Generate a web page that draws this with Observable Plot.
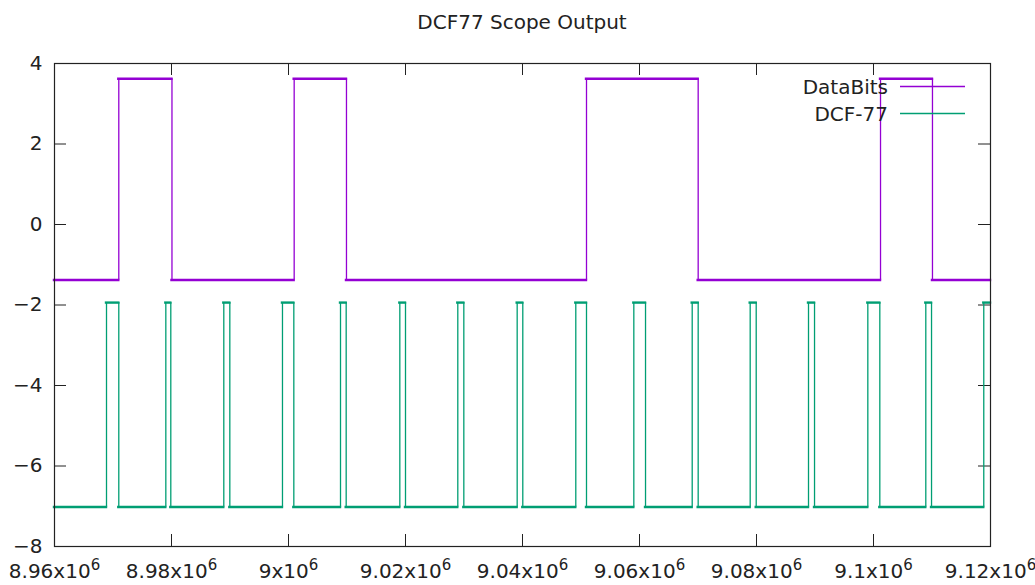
<!DOCTYPE html>
<html><head><meta charset="utf-8">
<script src="https://cdn.jsdelivr.net/npm/d3@7"></script>
<script src="https://cdn.jsdelivr.net/npm/@observablehq/plot@0.6"></script>
<style>
html,body{margin:0;padding:0;background:#fff;overflow:hidden;width:1035px;height:585px;}
#title{height:44px;line-height:44px;box-sizing:border-box;padding-left:54px;padding-right:45px;text-align:center;font-family:"DejaVu Sans";font-size:20px;color:#222;}
</style></head><body>
<div id="title">DCF77 Scope Output</div>
<div id="chart"></div>
<script>
// ---- data ----
const xDomain = [8960000, 9120000];
const yDomain = [-8, 4];
const xTicks = [8960000, 8980000, 9000000, 9020000, 9040000, 9060000, 9080000, 9100000, 9120000];
const xTickLabels = ["8.96x10^6", "8.98x10^6", "9x10^6", "9.02x10^6", "9.04x10^6", "9.06x10^6", "9.08x10^6", "9.1x10^6", "9.12x10^6"];
const yTicks = [-8, -6, -4, -2, 0, 2, 4];

// DataBits series: transitions and levels
const dataBitsRise = [8970990, 9000970, 9050940, 9101200];
const dataBitsFall = [8980080, 9009910, 9070030, 9110080];
const dataBitsLow = -1.38;
const dataBitsHigh = 3.62;

// DCF-77 series: pulse rise/fall times and levels
const dcfRise = [8968890, 8979030, 8988940, 8998970, 9008890, 9019030, 9028940, 9039090, 9049110, 9059030, 9069010, 9078920, 9088890, 9099030, 9108940, 9118850];
const dcfFall = [8970990, 8979880, 8989970, 9000910, 9009860, 9020000, 9029970, 9040050, 9050940, 9061030, 9070030, 9079950, 9089920, 9101080, 9109920, 9121000];
const dcfLow = -7.02;
const dcfHigh = -1.94;

const seriesNames = ["DataBits", "DCF-77"];
const seriesColors = ["#9400d3", "#009e73"];

// ---- build flat runs and edges from the transitions ----
function steps(name, rise, fall, low, high) {
  const [x0, x1] = xDomain;
  const flats = [], edges = [];
  let cur = x0;
  for (let i = 0; i < rise.length; i++) {
    const r = Math.min(rise[i], x1), f = Math.min(fall[i], x1);
    flats.push({t1: cur, t2: r, v: low, s: name});
    edges.push({t: r, lo: low, hi: high, s: name});
    flats.push({t1: r, t2: f, v: high, s: name});
    if (fall[i] < x1) edges.push({t: f, lo: low, hi: high, s: name});
    cur = f;
  }
  if (cur < x1) flats.push({t1: cur, t2: x1, v: low, s: name});
  return {flats, edges};
}
const A = steps(seriesNames[0], dataBitsRise, dataBitsFall, dataBitsLow, dataBitsHigh);
const B = steps(seriesNames[1], dcfRise, dcfFall, dcfLow, dcfHigh);
const flatSegs = [...A.flats, ...B.flats];
const edgeSegs = [...A.edges, ...B.edges];

const W = 1035, H = 541, mT = 19, mB = 39, mL = 54, mR = 45;
const innerH = H - mT - mB, innerW = W - mL - mR, tickLen = 12;
const ink = "#222";

const chart = Plot.plot({
  width: W, height: H,
  marginTop: mT, marginBottom: mB, marginLeft: mL, marginRight: mR,
  style: {fontFamily: "DejaVu Sans", fontSize: "20px", color: ink, background: "white"},
  x: {domain: xDomain, label: null},
  y: {domain: yDomain, label: null},
  color: {domain: seriesNames, range: seriesColors},
  marks: [
    Plot.axisX({ticks: xTicks, tickSize: 0, tickPadding: 17, fontSize: 20, label: null,
      tickFormat: d => xTickLabels[xTicks.indexOf(d)]}),
    Plot.axisY({ticks: yTicks, tickSize: 0, tickPadding: 12, fontSize: 20, label: null}),
    Plot.ruleX(xTicks, {x: d => d, insetTop: innerH - tickLen, stroke: ink}),
    Plot.ruleX(xTicks, {x: d => d, insetBottom: innerH - tickLen, stroke: ink}),
    Plot.ruleY(yTicks, {y: d => d, insetRight: innerW - tickLen, stroke: ink}),
    Plot.ruleY(yTicks, {y: d => d, insetLeft: innerW - tickLen, stroke: ink}),
    Plot.ruleX(edgeSegs, {x: "t", y1: "lo", y2: "hi", stroke: "s", strokeWidth: 1.3, ariaLabel: "signal-edge"}),
    Plot.ruleY(flatSegs, {x1: "t1", x2: "t2", y: "v", stroke: "s", strokeWidth: 2.4, strokeLinecap: "square", ariaLabel: "signal-flat"}),
    Plot.frame({stroke: ink, strokeWidth: 1.2})
  ]
});
document.getElementById("chart").appendChild(chart);

// superscript exponents on x tick labels
d3.select(chart).selectAll('g[aria-label="x-axis tick label"] text').each(function () {
  const s = this.textContent;
  const [base, exp] = s.split("^");
  this.textContent = "";
  d3.select(this).append("tspan").text(base);
  if (exp) d3.select(this).append("tspan").attr("font-size", 15).attr("dy", -8).text(exp);
});

// legend (drawn beneath the signals, as in the reference)
const before = chart.querySelector('g[aria-label="signal-edge"]');
const leg = d3.select(chart.insertBefore(document.createElementNS("http://www.w3.org/2000/svg", "g"), before));
const legY = [43, 70];
seriesNames.forEach((n, i) => {
  leg.append("text").attr("x", 888).attr("y", legY[i]).attr("text-anchor", "end")
    .attr("dominant-baseline", "central").attr("fill", ink)
    .attr("font-family", "DejaVu Sans").attr("font-size", 20).text(n);
  leg.append("line").attr("x1", 900).attr("x2", 965).attr("y1", legY[i] - 0.5).attr("y2", legY[i] - 0.5)
    .attr("stroke", seriesColors[i]).attr("stroke-width", 1.5);
});
</script>
</body></html>
